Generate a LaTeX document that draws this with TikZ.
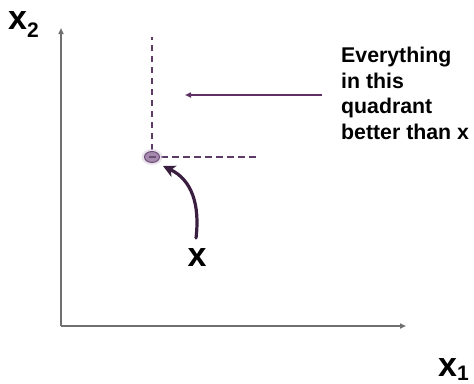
\documentclass[tikz,border=0pt]{standalone}
\usepackage{fontspec}
\setmainfont{Liberation Sans}
\usetikzlibrary{arrows.meta,shapes.geometric}
\definecolor{axisgray}{HTML}{707070}
\definecolor{dashpurple}{HTML}{5E3A66}
\definecolor{arrowpurple}{HTML}{5F2F66}
\definecolor{curvepurple}{HTML}{3A1E40}
\definecolor{dotfill}{HTML}{A68AAE}
\definecolor{dotline}{HTML}{6E4E76}
\tikzset{
  axisline/.style={draw=axisgray, line width=2pt, -{Triangle[length=6pt,width=5pt]}},
  dashline/.style={draw=dashpurple, line width=1.8pt, dash pattern=on 6.5pt off 4.5pt},
  biglabel/.style={font=\bfseries\fontsize{34}{38}\selectfont, inner sep=0pt},
  note/.style={font=\bfseries\fontsize{21.3}{25.5}\selectfont, align=left, inner sep=0pt, anchor=north west}
}
\begin{document}
\begin{tikzpicture}[x=1pt,y=-1pt]
\useasboundingbox (0,0) rectangle (474,383);
% axes
\coordinate (O) at (61,326);
\coordinate (ytip) at (61,28);
\coordinate (xtip) at (406,326);
\draw[axisline] (O) -- (ytip);
\draw[axisline] (O) -- (xtip);
% axis labels
\node[biglabel, anchor=base west] (x2) at (8,29) {x\raisebox{-8pt}{\fontsize{21}{24}\selectfont 2}};
\node[biglabel, anchor=base west] (x1) at (438,376) {x\raisebox{-4pt}{\fontsize{21}{24}\selectfont 1}};
% dashed quadrant lines
\coordinate (P) at (152,157);
\coordinate (vtop) at (152,37);
\coordinate (hend) at (259,157);
\draw[dashline] (P) ++(0,-7) -- (vtop);
\draw[dashline] (P) ++(9,0) -- (hend);
% point
\fill[dotfill!40, opacity=0.6] (P) ellipse (10.5pt and 8pt);
\node[draw=dotline, fill=dotfill, line width=1pt, ellipse, minimum width=15pt, minimum height=11pt, inner sep=0pt] (dot) at (P) {};
\draw[dotline, line width=1.2pt] (148.5,157) -- (155.5,157);
% note and arrow
\node[note] (note) at (341,47) {Everything\\in this\\quadrant\\better than x};
\coordinate (astart) at (322,95);
\coordinate (aend) at (185,95);
\draw[draw=arrowpurple, line width=2pt, -{Triangle[length=6pt,width=5pt]}] (astart) -- (aend);
% curved arrow to point
\coordinate (cstart) at (196,238);
\coordinate (cend) at (163,166);
\draw[draw=curvepurple, line width=3.2pt, line cap=round, -{Stealth[length=12pt,width=12pt,inset=3pt]}]
  (cstart) .. controls (200,205) and (192,180) .. (cend);
\node[biglabel] (xl) at (197,258) {x};
\end{tikzpicture}
\end{document}
